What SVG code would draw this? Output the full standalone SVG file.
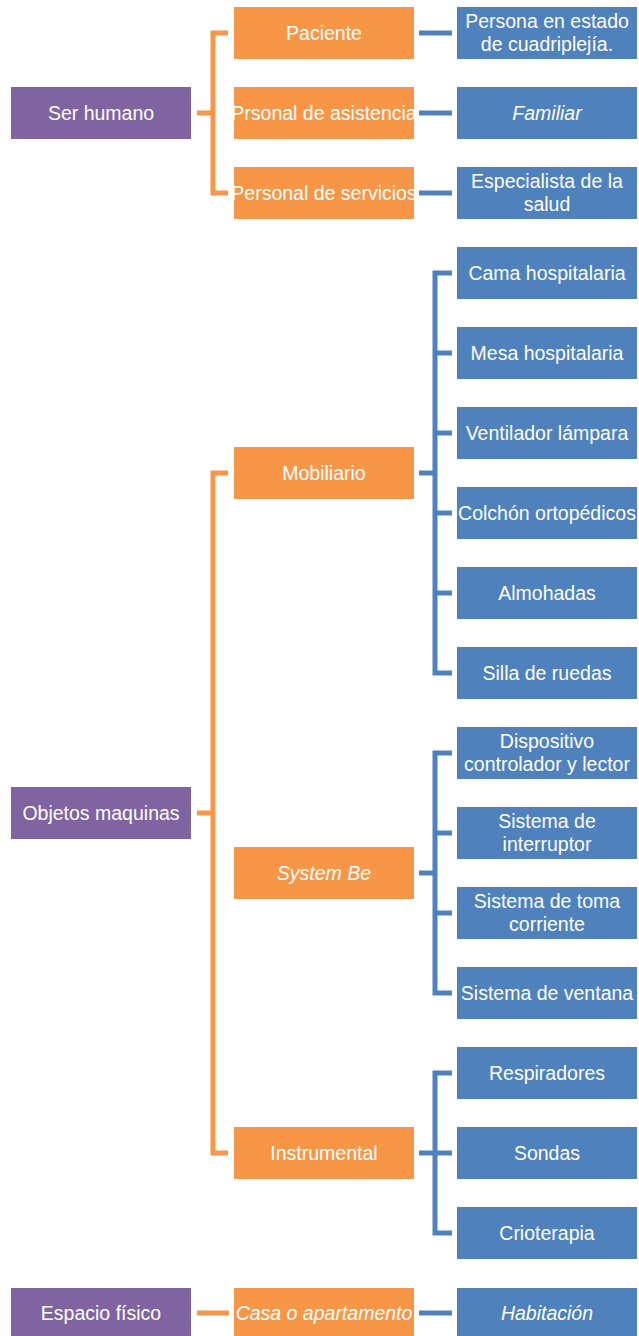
<svg xmlns="http://www.w3.org/2000/svg" width="639" height="1336" viewBox="0 0 639 1336">
<style>
.p{fill:#8064A2}
.o{fill:#F79646}
.b{fill:#4F81BD}
text{font-family:"Liberation Sans",Arial,sans-serif;font-size:19.5px;fill:#FFFFFF;text-anchor:middle;dominant-baseline:central}
.i{font-style:italic}
.co{fill:none;stroke:#F79646;stroke-width:5}
.cb{fill:none;stroke:#4F81BD;stroke-width:5}
</style>
<rect width="639" height="1336" fill="#FFFFFF"/>
<g id="connectors">
<path class="co" d="M197,113H213M228,33H213V193H228"/>
<path class="co" d="M197,813H213M228,473H213V1153H228"/>
<path class="co" d="M197,1313H229"/>
<path class="cb" d="M419,33H452M419,113H452M419,193H452M419,1313H452"/>
<path class="cb" d="M419,473H435M452,273H435V673H452M435,353H452M435,433H452M435,513H452M435,593H452"/>
<path class="cb" d="M419,873H435M452,753H435V993H452M435,833H452M435,913H452"/>
<path class="cb" d="M419,1153H435M452,1073H435V1233H452M435,1153H452"/>
</g>
<g id="n-ser-humano"><rect class="p" x="11" y="87" width="180" height="52"/><text x="101" y="113">Ser humano</text></g>
<g id="n-objetos"><rect class="p" x="11" y="787" width="180" height="52"/><text x="101" y="813">Objetos maquinas</text></g>
<g id="n-espacio"><rect class="p" x="11" y="1288" width="180" height="52"/><text x="101" y="1313">Espacio físico</text></g>
<g id="n-paciente"><rect class="o" x="234" y="7" width="180" height="52"/><text x="324" y="33">Paciente</text></g>
<g id="n-prsonal"><rect class="o" x="234" y="87" width="180" height="52"/><text x="324" y="113">Prsonal de asistencia</text></g>
<g id="n-servicios"><rect class="o" x="234" y="167" width="180" height="52"/><text x="324" y="193">Personal de servicios</text></g>
<g id="n-mobiliario"><rect class="o" x="234" y="447" width="180" height="52"/><text x="324" y="473">Mobiliario</text></g>
<g id="n-system"><rect class="o" x="234" y="847" width="180" height="52"/><text class="i" x="324" y="873">System Be</text></g>
<g id="n-instrumental"><rect class="o" x="234" y="1127" width="180" height="52"/><text x="324" y="1153">Instrumental</text></g>
<g id="n-casa"><rect class="o" x="234" y="1288" width="180" height="52"/><text class="i" x="324" y="1313">Casa o apartamento</text></g>
<g id="n-persona"><rect class="b" x="457" y="7" width="180" height="52"/><text x="547" y="21">Persona en estado</text><text x="547" y="44">de cuadriplejía.</text></g>
<g id="n-familiar"><rect class="b" x="457" y="87" width="180" height="52"/><text class="i" x="547" y="113">Familiar</text></g>
<g id="n-especialista"><rect class="b" x="457" y="167" width="180" height="52"/><text x="547" y="181">Especialista de la</text><text x="547" y="204">salud</text></g>
<g id="n-cama"><rect class="b" x="457" y="247" width="180" height="52"/><text x="547" y="273">Cama hospitalaria</text></g>
<g id="n-mesa"><rect class="b" x="457" y="327" width="180" height="52"/><text x="547" y="353">Mesa hospitalaria</text></g>
<g id="n-ventilador"><rect class="b" x="457" y="407" width="180" height="52"/><text x="547" y="433">Ventilador lámpara</text></g>
<g id="n-colchon"><rect class="b" x="457" y="487" width="180" height="52"/><text x="547" y="513">Colchón ortopédicos</text></g>
<g id="n-almohadas"><rect class="b" x="457" y="567" width="180" height="52"/><text x="547" y="593">Almohadas</text></g>
<g id="n-silla"><rect class="b" x="457" y="647" width="180" height="52"/><text x="547" y="673">Silla de ruedas</text></g>
<g id="n-dispositivo"><rect class="b" x="457" y="727" width="180" height="52"/><text x="547" y="741">Dispositivo</text><text x="547" y="764">controlador y lector</text></g>
<g id="n-interruptor"><rect class="b" x="457" y="807" width="180" height="52"/><text x="547" y="821">Sistema de</text><text x="547" y="844">interruptor</text></g>
<g id="n-toma"><rect class="b" x="457" y="887" width="180" height="52"/><text x="547" y="901">Sistema de toma</text><text x="547" y="924">corriente</text></g>
<g id="n-ventana"><rect class="b" x="457" y="967" width="180" height="52"/><text x="547" y="993">Sistema de ventana</text></g>
<g id="n-respiradores"><rect class="b" x="457" y="1047" width="180" height="52"/><text x="547" y="1073">Respiradores</text></g>
<g id="n-sondas"><rect class="b" x="457" y="1127" width="180" height="52"/><text x="547" y="1153">Sondas</text></g>
<g id="n-crioterapia"><rect class="b" x="457" y="1207" width="180" height="52"/><text x="547" y="1233">Crioterapia</text></g>
<g id="n-habitacion"><rect class="b" x="457" y="1288" width="180" height="52"/><text class="i" x="547" y="1313">Habitación</text></g>
</svg>
